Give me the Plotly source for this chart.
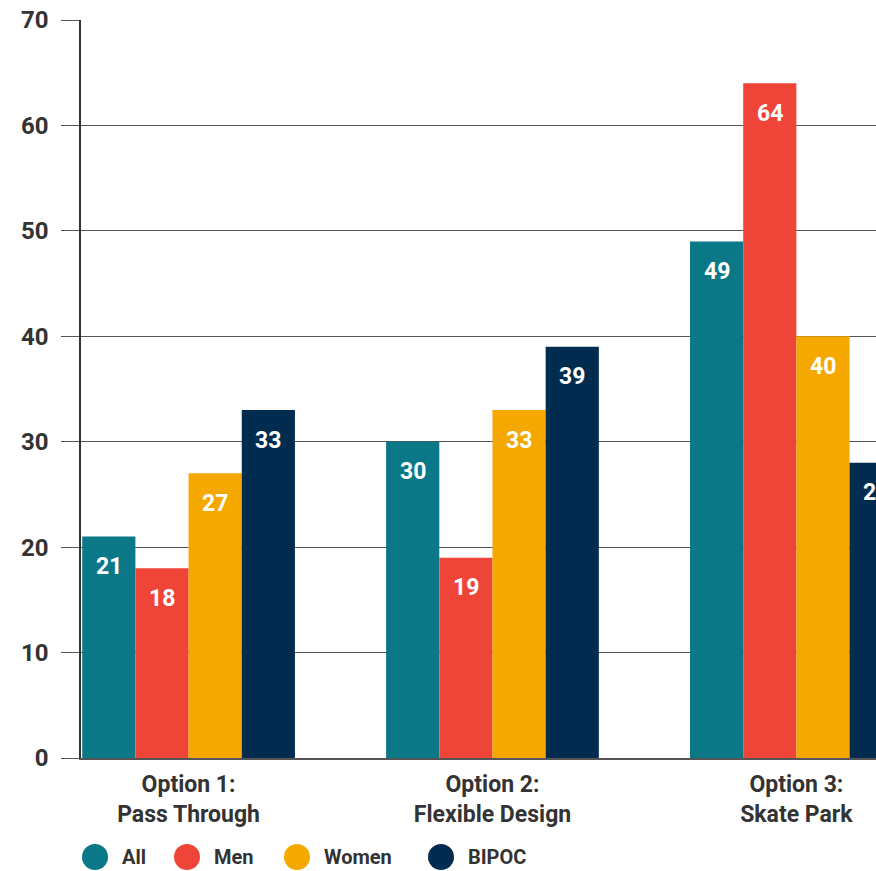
import plotly.graph_objects as go

categories = ["Option 1:<br>Pass Through", "Option 2:<br>Flexible Design", "Option 3:<br>Skate Park"]
series_names = ["All", "Men", "Women", "BIPOC"]
all_vals = [21, 30, 49]
men_vals = [18, 19, 64]
women_vals = [27, 33, 40]
bipoc_vals = [33, 39, 28]
y_ticks = [0, 10, 20, 30, 40, 50, 60, 70]

colors = ["#0A7886", "#EF4539", "#F4A800", "#012C4F"]
series_vals = [all_vals, men_vals, women_vals, bipoc_vals]

FONT = "Roboto"
TXT = "#333333"
bargap = 0.3
x_range = [-0.354, 2.262]

fig = go.Figure()
for name, vals, col in zip(series_names, series_vals, colors):
    fig.add_trace(go.Bar(x=list(range(len(categories))), y=vals, name=name,
                         marker=dict(color=col, line=dict(width=0)),
                         showlegend=False))

# value labels inside the top of each bar (x converted from data to paper units)
n = len(series_names)
bw = (1 - bargap) / n
for j, vals in enumerate(series_vals):
    for i, v in enumerate(vals):
        xd = i + (j - (n - 1) / 2) * bw
        xp = (xd - x_range[0]) / (x_range[1] - x_range[0])
        fig.add_annotation(x=xp, y=v, xref="paper", yref="y", xanchor="center", yanchor="middle",
                           text=f"<b>{v}</b>", showarrow=False, yshift=-30,
                           font=dict(family=FONT, size=23, color="white"))

# manual legend with large circles
leg_x = [95, 187, 297, 441]
plot_l, plot_w, plot_h = 81, 795, 738
for name, col, px in zip(series_names, colors, leg_x):
    xp = (px - plot_l) / plot_w
    fig.add_shape(type="circle", xref="paper", yref="paper", xsizemode="pixel", ysizemode="pixel",
                  xanchor=xp, yanchor=-99 / plot_h, x0=-13, x1=13, y0=-13, y1=13,
                  fillcolor=col, line=dict(width=0))
    fig.add_annotation(xref="paper", yref="paper", x=(px + 25 - plot_l) / plot_w, y=-99 / plot_h,
                       xanchor="left", yanchor="middle", showarrow=False,
                       text=f"<b>{name}</b>", font=dict(family=FONT, size=20, color=TXT))

fig.update_layout(
    width=876, height=871,
    margin=dict(l=81, r=0, t=20, b=113),
    paper_bgcolor="white", plot_bgcolor="white",
    barmode="group", bargap=bargap, bargroupgap=0,
    showlegend=False,
    font=dict(family=FONT, color=TXT),
)
fig.update_xaxes(
    type="linear", range=x_range,
    tickmode="array", tickvals=list(range(len(categories))),
    ticktext=[f"<b>{c.replace('<br>', '</b><br><b>')}</b>" for c in categories],
    tickfont=dict(family=FONT, size=23, color=TXT),
    showgrid=False, zeroline=False, showline=True, linecolor="#555555", linewidth=2,
    ticks="", ticklabelstandoff=4,
)
fig.update_yaxes(
    range=[0, 70], tickmode="array", tickvals=y_ticks,
    ticktext=[f"<b>{t}</b>" for t in y_ticks],
    tickfont=dict(family=FONT, size=24, color=TXT),
    showgrid=True, gridcolor="#555555", gridwidth=1,
    zeroline=False, showline=True, linecolor="#333333", linewidth=1.5,
    ticks="outside", ticklen=18, tickcolor="#555555", tickwidth=1,
    ticklabelstandoff=8,
)

fig.write_html("out.html")
